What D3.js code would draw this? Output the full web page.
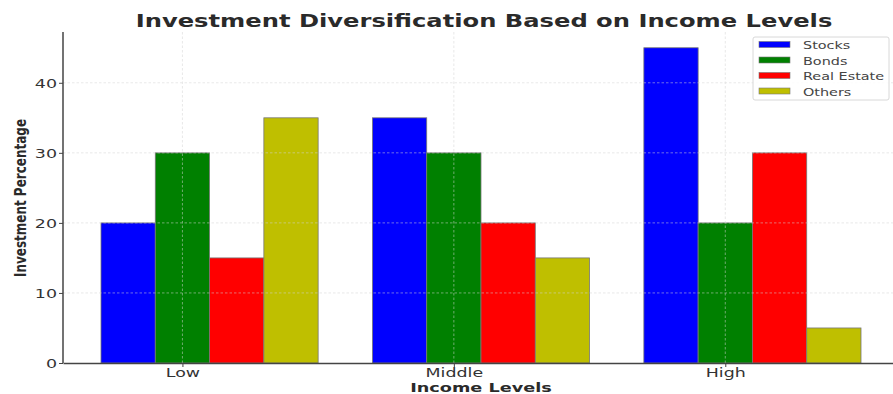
<!DOCTYPE html>
<html>
<head>
<meta charset="utf-8">
<script src="https://cdn.jsdelivr.net/npm/d3@7"></script>
<style>
  html, body { margin: 0; padding: 0; background: #fff; }
  svg { display: block; font-family: "DejaVu Sans", sans-serif; }
</style>
</head>
<body>
<svg id="chart" width="893" height="394"></svg>
<script>
// Data
const incomeLevels = ["Low", "Middle", "High"];
const seriesNames = ["Stocks", "Bonds", "Real Estate", "Others"];
const stocks = [20, 35, 45];
const bonds = [30, 30, 20];
const realEstate = [15, 20, 30];
const others = [35, 15, 5];
const yTicks = [0, 10, 20, 30, 40];
const seriesColors = ["#0000ff", "#008000", "#ff0000", "#bfbf00"];

const seriesValues = [stocks, bonds, realEstate, others];
const barWidth = 0.2;

const svg = d3.select("#chart");

// Layout
const plot = { left: 63, right: 899, top: 32, bottom: 363 };
const SX = 1.34; // horizontal text stretch

const x = d3.scaleLinear()
  .domain([-0.24, 2.84])
  .range([plot.left, plot.right]);
const y = d3.scaleLinear()
  .domain([0, 47.25])
  .range([plot.bottom, plot.top]);

// Bars
const bars = svg.append("g");
seriesValues.forEach((vals, j) => {
  bars.selectAll(null)
    .data(vals)
    .enter()
    .append("rect")
    .attr("x", (d, i) => x(i + j * barWidth - barWidth / 2))
    .attr("width", x(barWidth) - x(0))
    .attr("y", d => y(d))
    .attr("height", d => y(0) - y(d))
    .attr("fill", seriesColors[j])
    .attr("stroke", "#777")
    .attr("stroke-width", 0.8);
});

// Grid (drawn over bars)
const grid = svg.append("g")
  .attr("stroke", "#d4d4d4")
  .attr("stroke-width", 0.7)
  .attr("stroke-dasharray", "2.5,2")
  .attr("opacity", 0.75);
grid.selectAll(null)
  .data(yTicks.filter(t => t > 0))
  .enter()
  .append("line")
  .attr("x1", plot.left).attr("x2", plot.right)
  .attr("y1", d => y(d)).attr("y2", d => y(d));
grid.selectAll(null)
  .data(incomeLevels)
  .enter()
  .append("line")
  .attr("x1", (d, i) => x(i + barWidth)).attr("x2", (d, i) => x(i + barWidth))
  .attr("y1", plot.top).attr("y2", plot.bottom);

// Axes
const xAxis = d3.axisBottom(x)
  .tickValues(incomeLevels.map((d, i) => i + barWidth))
  .tickFormat((d, i) => incomeLevels[i])
  .tickSize(4)
  .tickSizeOuter(0);
const yAxis = d3.axisLeft(y)
  .tickValues(yTicks)
  .tickSize(4)
  .tickSizeOuter(0);

const gx = svg.append("g")
  .attr("transform", `translate(0,${plot.bottom})`)
  .call(xAxis);
const gy = svg.append("g")
  .attr("transform", `translate(${plot.left},0)`)
  .call(yAxis);

[gx, gy].forEach(g => {
  g.select(".domain").attr("stroke", "#444").attr("stroke-width", 1.5);
  g.selectAll(".tick line").attr("stroke", "#444").attr("stroke-width", 1);
  g.selectAll(".tick text")
    .attr("fill", "#333")
    .attr("font-size", 13)
    .attr("font-family", "DejaVu Sans");
});
// y domain line spans the full axes height
gy.select(".domain").attr("d", `M0,${plot.bottom}V${plot.top}`);

// Stretch tick labels horizontally
gx.selectAll(".tick text")
  .attr("y", null).attr("dy", null)
  .attr("transform", `translate(0,14) scale(${SX},1)`);
gy.selectAll(".tick text")
  .attr("x", null).attr("dy", null)
  .attr("text-anchor", "end")
  .attr("transform", `translate(-6,4.7) scale(${SX},1)`);

// Title
svg.append("text")
  .attr("transform", `translate(${(plot.left + plot.right) / 2 + 3},27) scale(1.36,1)`)
  .attr("text-anchor", "middle")
  .attr("font-size", 17.8)
  .attr("font-weight", "bold")
  .attr("fill", "#2a2a2a")
  .text("Investment Diversification Based on Income Levels");

// Axis labels
svg.append("text")
  .attr("transform", `translate(481,392) scale(1.36,1)`)
  .attr("text-anchor", "middle")
  .attr("font-size", 13)
  .attr("font-weight", "bold")
  .attr("fill", "#2a2a2a")
  .text("Income Levels");

svg.append("text")
  .attr("transform", `translate(26,198) scale(1.36,1) rotate(-90)`)
  .attr("text-anchor", "middle")
  .attr("font-size", 12)
  .attr("font-weight", "bold")
  .attr("fill", "#2a2a2a")
  .text("Investment Percentage");

// Legend
const legend = svg.append("g");
legend.append("rect")
  .attr("x", 753).attr("y", 37)
  .attr("width", 136).attr("height", 63)
  .attr("rx", 2)
  .attr("fill", "#fff")
  .attr("fill-opacity", 0.85)
  .attr("stroke", "#d8d8d8")
  .attr("stroke-width", 1);
const items = legend.selectAll(null)
  .data(seriesNames)
  .enter()
  .append("g")
  .attr("transform", (d, i) => `translate(0,${49 + i * 15.5})`);
items.append("rect")
  .attr("x", 759).attr("y", -7.5)
  .attr("width", 31).attr("height", 6)
  .attr("fill", (d, i) => seriesColors[i])
  .attr("stroke", "#777")
  .attr("stroke-width", 0.6);
items.append("text")
  .attr("transform", `translate(803,0) scale(1.31,1)`)
  .attr("font-size", 11)
  .attr("fill", "#444")
  .text(d => d);
</script>
</body>
</html>
